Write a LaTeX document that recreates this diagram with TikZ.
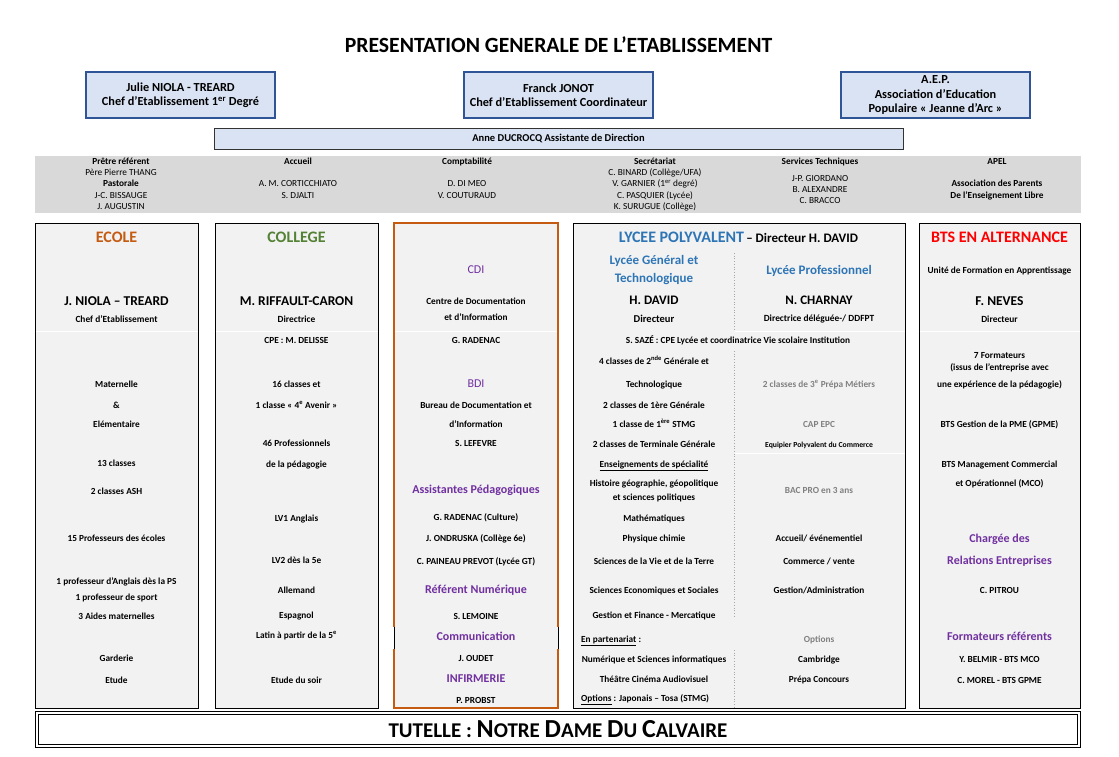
\documentclass[tikz,border=0pt]{standalone}
\usepackage{fontspec}
\setmainfont{Carlito}
\usetikzlibrary{positioning}
\definecolor{hdrblue}{HTML}{2F5597}
\definecolor{hdrfill}{HTML}{DAE3F3}
\definecolor{bandgray}{HTML}{D9D9D9}
\definecolor{colfill}{HTML}{F2F2F2}
\definecolor{ecoleorange}{HTML}{C55A11}
\definecolor{collgreen}{HTML}{548235}
\definecolor{lyceeblue}{HTML}{2E75B6}
\definecolor{sectpurple}{HTML}{7030A0}
\definecolor{optgray}{HTML}{808080}
\newcommand{\setfs}[1]{\fontsize{#1}{#1}\selectfont}

\begin{document}
\begin{tikzpicture}[
  x=1pt, y=-1pt,
  txt/.style={font=\bfseries\setfs{9.3}, inner sep=0pt, anchor=mid},
  bandhd/.style={font=\bfseries\setfs{9.3}, inner sep=0pt, anchor=mid},
  bandtx/.style={font=\setfs{9.3}, inner sep=0pt, anchor=mid},
  headbox/.style={draw=hdrblue, line width=1.6pt, fill=hdrfill, minimum width=189, minimum height=46,
    inner sep=0pt, align=center, font=\bfseries\fontsize{12.3}{14.5}\selectfont},
  colbox/.style={draw=black, line width=1pt, fill=colfill},
  colhead/.style={font=\bfseries\setfs{16}, inner sep=0pt, anchor=mid},
  persname/.style={font=\bfseries\setfs{13.5}, inner sep=0pt, anchor=mid},
  subtitle/.style={font=\bfseries\setfs{9.4}, inner sep=0pt, anchor=mid},
  subhead/.style={font=\bfseries\fontsize{13}{17.5}\selectfont, text=lyceeblue, inner sep=0pt, align=center},
  sect/.style={font=\bfseries\setfs{12}, text=sectpurple, inner sep=0pt, anchor=mid},
  sepline/.style={white, line width=1pt},
  halfline/.style={gray!70, dotted, line width=0.7pt},
  tutelle/.style={draw, double, line width=1pt, double distance=1.6pt, minimum width=1042, minimum height=33.4, inner sep=0pt}
]
\useasboundingbox (0,0) rectangle (1119,757);

\node[font=\bfseries\setfs{21.7}, inner sep=0pt, anchor=mid] (titre) at (558.5,50) {PRESENTATION GENERALE DE L’ETABLISSEMENT};

\node[headbox] (chef1) at (180.5,95) {Julie NIOLA - TREARD\\Chef d’Etablissement 1\textsuperscript{er} Degré};
\node[headbox] (coord) at (558.5,95) {Franck JONOT\\Chef d’Etablissement Coordinateur};
\node[headbox] (aep) at (935.5,95) {A.E.P.\\Association d’Education\\Populaire « Jeanne d’Arc »};
\node[draw=black!80, line width=0.8pt, fill=hdrfill, minimum width=689, minimum height=21, inner sep=0pt,
  font=\bfseries\setfs{10.5}] (assist) at (558.5,138.5) {Anne DUCROCQ Assistante de Direction};

% services
\fill[bandgray] (35,156) rectangle (1081,213);
\node[bandhd] (pretre) at (121,162) {Prêtre référent};
\node[bandtx] (thang) at (121,173.3) {Père Pierre THANG};
\node[bandhd] (pasto) at (121,184.6) {Pastorale};
\node[bandtx] (bissauge) at (121,196) {J-C. BISSAUGE};
\node[bandtx] (augustin) at (121,207.3) {J. AUGUSTIN};
\node[bandhd] (accueil) at (298,162) {Accueil};
\node[bandtx] (corti) at (298,184.6) {A. M. CORTICCHIATO};
\node[bandtx] (djalti) at (298,196) {S. DJALTI};
\node[bandhd] (compta) at (467,162) {Comptabilité};
\node[bandtx] (dimeo) at (467,184.6) {D. DI MEO};
\node[bandtx] (couturaud) at (467,196) {V. COUTURAUD};
\node[bandhd] (secret) at (655,162) {Secrétariat};
\node[bandtx] (binard) at (655,173.3) {C. BINARD (Collège/UFA)};
\node[bandtx] (garnier) at (655,184.6) {V. GARNIER (1\textsuperscript{er} degré)};
\node[bandtx] (pasquier) at (655,196) {C. PASQUIER (Lycée)};
\node[bandtx] (surugue) at (655,207.3) {K. SURUGUE (Collège)};
\node[bandhd] (servtech) at (820,162) {Services Techniques};
\node[bandtx] (giordano) at (820,179) {J-P. GIORDANO};
\node[bandtx] (alexandre) at (820,190.3) {B. ALEXANDRE};
\node[bandtx] (bracco) at (820,201.6) {C. BRACCO};
\node[bandhd] (apel) at (997,162) {APEL};
\node[bandhd] (apel1) at (997,184.6) {Association des Parents};
\node[bandhd] (apel2) at (997,196) {De l’Enseignement Libre};

% ecole
\draw[colbox] (35,223) rectangle (198,708);
\draw[sepline] (35.5,331) -- (197.5,331);
\node[colhead, text=ecoleorange] (ecole) at (116.5,240) {ECOLE};
\node[persname] (ecdir) at (116.5,303) {J. NIOLA – TREARD};
\node[subtitle] (ecfn) at (116.5,320) {Chef d’Etablissement};
\foreach \y/\t in {385/Maternelle, 406/\&, 425/Elémentaire, 464/13 classes, 492/2 classes ASH,
  539/15 Professeurs des écoles, 582/1 professeur d’Anglais dès la PS, 598/1 professeur de sport,
  617/3 Aides maternelles, 659/Garderie, 681/Etude}
  \node[txt] (ec\y) at (116.5,\y) {\t};

% college
\draw[colbox] (215,223) rectangle (378,708);
\draw[sepline] (215.5,331) -- (377.5,331);
\node[colhead, text=collgreen] (college) at (296.5,240) {COLLEGE};
\node[persname] (coldir) at (296.5,303) {M. RIFFAULT-CARON};
\node[subtitle] (colfn) at (296.5,320) {Directrice};
\foreach \y/\t in {341/CPE : M. DELISSE, 385/16 classes et, 406/1 classe « 4\textsuperscript{e} Avenir »,
  444/46 Professionnels, 465/de la pédagogie, 519/LV1 Anglais, 561/LV2 dès la 5e, 591/Allemand,
  616/Espagnol, 636/Latin à partir de la 5\textsuperscript{e}, 681/Etude du soir}
  \node[txt] (col\y) at (296.5,\y) {\t};

% cdi
\fill[colfill] (394,223) rectangle (558,708);
\draw[ecoleorange, line width=1.8pt] (394,627) -- (394,223) -- (558,223) -- (558,627);
\draw[ecoleorange, line width=1.8pt] (394,649) -- (394,708) -- (558,708) -- (558,649);
\draw[black, line width=0.8pt] (394,627) -- (394,649) (558,627) -- (558,649);
\draw[sepline] (395,331) -- (557,331);
\node[sect, font=\setfs{12}] (cdi) at (476,271) {CDI};
\node[sect, font=\setfs{12}] (bdi) at (476,385) {BDI};
\foreach \y/\t in {491/Assistantes Pédagogiques, 591/Référent Numérique, 638/Communication, 680/INFIRMERIE}
  \node[sect] (cdisect\y) at (476,\y) {\t};
\foreach \y/\t in {302/Centre de Documentation, 318/et d’Information, 341/G. RADENAC,
  406/Bureau de Documentation et, 425/d’Information, 444/S. LEFEVRE, 518/G. RADENAC (Culture),
  539/J. ONDRUSKA (Collège 6e), 562/C. PAINEAU PREVOT (Lycée GT), 617/S. LEMOINE,
  659/J. OUDET, 701/P. PROBST}
  \node[txt] (cdi\y) at (476,\y) {\t};

% lycee
\draw[colbox] (573,223) rectangle (905,708);
\draw[sepline] (734.5,331) -- (904.5,331);
\draw[sepline] (734.5,453) -- (904.5,453);
\draw[halfline] (734,253) -- (734,330);
\draw[halfline] (734,351) -- (734,617);
\draw[halfline] (734,650) -- (734,707);
\node[inner sep=0pt, anchor=mid] (lycee) at (738.5,240)
  {{\color{lyceeblue}\bfseries\setfs{16}LYCEE POLYVALENT} {\bfseries\setfs{13}– Directeur H. DAVID}};
\node[subhead] (lgt) at (654,270) {Lycée Général et\\Technologique};
\node[subhead] (lp) at (819,271) {Lycée Professionnel};
\node[persname, font=\bfseries\setfs{13}] (lgtdir) at (654,302) {H. DAVID};
\node[persname, font=\bfseries\setfs{13}] (lpdir) at (819,302) {N. CHARNAY};
\node[subtitle, font=\bfseries\setfs{10.5}] (lgtfn) at (654,320) {Directeur};
\node[subtitle] (lpfn) at (819,319) {Directrice déléguée-/ DDFPT};
\node[txt] (cpe) at (738,341) {S. SAZÉ : CPE Lycée et coordinatrice Vie scolaire Institution};
\foreach \y/\t in {362/4 classes de 2\textsuperscript{nde} Générale et, 385/Technologique,
  406/2 classes de 1ère Générale, 425/1 classe de 1\textsuperscript{ère} STMG,
  445/2 classes de Terminale Générale, 465/\underline{Enseignements de spécialité},
  484/{Histoire géographie, géopolitique}, 498/et sciences politiques, 519/Mathématiques,
  539/Physique chimie, 562/Sciences de la Vie et de la Terre, 591/Sciences Economiques et Sociales,
  616/Gestion et Finance - Mercatique, 660/Numérique et Sciences informatiques,
  680/Théâtre Cinéma Audiovisuel}
  \node[txt] (lgt\y) at (654,\y) {\t};
\node[txt, anchor=mid west] (partenariat) at (581,640) {\underline{En partenariat} :};
\node[txt, anchor=mid west] (options) at (581,699) {\underline{Options} : Japonais – Tosa (STMG)};
\foreach \y/\t in {385/2 classes de 3\textsuperscript{e} Prépa Métiers, 425/CAP EPC, 491/BAC PRO en 3 ans, 640/Options}
  \node[txt, text=optgray] (lpg\y) at (819,\y) {\t};
\foreach \y/\t in {539/{Accueil/ événementiel}, 562/{Commerce / vente}, 591/{Gestion/Administration},
  660/Cambridge, 680/Prépa Concours}
  \node[txt] (lp\y) at (819,\y) {\t};
\node[txt, font=\bfseries\setfs{7.7}] (epc) at (819,445) {Equipier Polyvalent du Commerce};

% bts
\draw[colbox] (919,223) rectangle (1080,708);
\draw[sepline] (919.5,331) -- (1079.5,331);
\node[colhead, text=red] (bts) at (999.5,240) {BTS EN ALTERNANCE};
\node[txt] (ufa) at (999.5,271) {Unité de Formation en Apprentissage};
\node[persname] (btsdir) at (999.5,303) {F. NEVES};
\node[subtitle] (btsfn) at (999.5,320) {Directeur};
\foreach \y/\t in {356/7 Formateurs, 368/(issus de l’entreprise avec, 385/une expérience de la pédagogie),
  425/BTS Gestion de la PME (GPME), 465/BTS Management Commercial, 484/et Opérationnel (MCO),
  591/C. PITROU, 660/Y. BELMIR - BTS MCO, 681/C. MOREL - BTS GPME}
  \node[txt] (bts\y) at (999.5,\y) {\t};
\foreach \y/\t in {540/Chargée des, 562/Relations Entreprises, 638/Formateurs référents}
  \node[sect] (btssect\y) at (999.5,\y) {\t};

% tutelle
\node[tutelle] (tutelle) at (558,729.5)
  {\bfseries{\setfs{21}TUTELLE : }{\setfs{26}N}{\setfs{21}OTRE }{\setfs{26}D}{\setfs{21}AME }{\setfs{26}D}{\setfs{21}U }{\setfs{26}C}{\setfs{21}ALVAIRE}};
\end{tikzpicture}
\end{document}
